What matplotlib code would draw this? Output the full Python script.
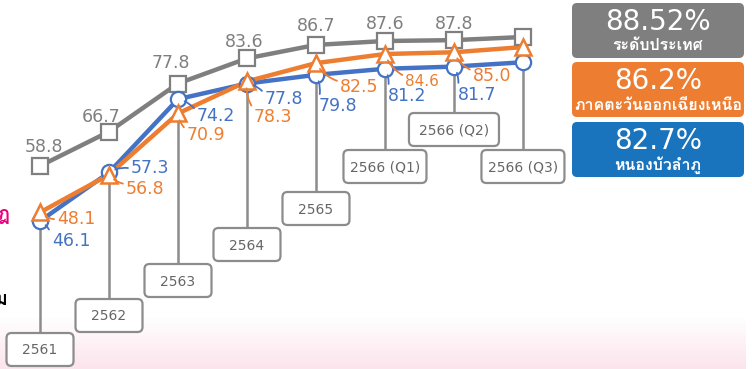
import numpy as np
import matplotlib
matplotlib.use("Agg")
import matplotlib.pyplot as plt
import matplotlib.transforms as mtransforms
from matplotlib import font_manager, ft2font
from matplotlib.patches import FancyBboxPatch
from matplotlib.colors import LinearSegmentedColormap

# data
years = ["2561", "2562", "2563", "2564", "2565", "2566 (Q1)", "2566 (Q2)", "2566 (Q3)"]
national = [58.8, 66.7, 77.8, 83.6, 86.7, 87.6, 87.8, 88.52]
northeast = [48.1, 56.8, 70.9, 78.3, 82.5, 84.6, 85.0, 86.2]
nongbua = [46.1, 57.3, 74.2, 77.8, 79.8, 81.2, 81.7, 82.7]
names = ["ระดับประเทศ", "ภาคตะวันออกเฉียงเหนือ", "หนองบัวลำภู"]

GRAY, ORANGE, BLUE = "#7f7f7f", "#ed7d31", "#4472c4"
BOX_BLUE = "#1a73bd"


def find_thai_font():
    for f in font_manager.fontManager.ttflist:
        try:
            cmap = ft2font.FT2Font(f.fname).get_charmap()
        except Exception:
            continue
        if 0x0E23 in cmap and 0x0E20 in cmap:
            return f.name
    return "DejaVu Sans"


thai = find_thai_font()
plt.rcParams["font.family"] = ["DejaVu Sans"]

W, H = 752, 369
fig = plt.figure(figsize=(W / 100, H / 100), dpi=100)

# pixel transform, origin top-left
pix = mtransforms.Affine2D().scale(1 / 100, -1 / 100).translate(0, H / 100) + fig.dpi_scale_trans

# pink fade at the bottom
bg = fig.add_axes([0, 0, 1, 1])
bg.set_xlim(0, W)
bg.set_ylim(0, H)
bg.axis("off")
cmap = LinearSegmentedColormap.from_list("fade", ["white", "#fce4ec"])
grad = np.linspace(1, 0, 60)[:, None]
bg.imshow(grad, cmap=cmap, extent=[0, 746, 0, 52], origin="lower", aspect="auto")

ax = fig.add_axes([0, 0, 1, 1])
ax.patch.set_alpha(0)
ax.set_xlim(-0.58, 10.32)
ax.set_ylim(12.0, 97.05)
ax.axis("off")

x = np.arange(len(years))

# connector lines and year boxes
box_top = [333, 299, 264, 228, 192, 150, 113, 150]
box_w = [67, 67, 67, 67, 67, 83, 90, 83]
box_h = 33
inv = ax.transData.inverted()
for i, yr in enumerate(years):
    low = min(national[i], northeast[i], nongbua[i])
    ytop = inv.transform((0, H - box_top[i]))[1]
    ax.plot([x[i], x[i]], [low, ytop], color="#8c8c8c", lw=1.8, zorder=1)
    cx = ax.transData.transform((x[i], 0))[0]
    ax.add_patch(FancyBboxPatch((cx - box_w[i] / 2, box_top[i]), box_w[i], box_h,
                                boxstyle="round,pad=0,rounding_size=5",
                                transform=pix, fc="white", ec="#8c8c8c", lw=1.6,
                                clip_on=False, zorder=2))
    ax.text(cx, box_top[i] + box_h / 2 + 1, yr, transform=pix, ha="center", va="center",
            fontsize=10, color="#666666", zorder=3)

# lines
ax.plot(x, national, color=GRAY, lw=3.2, zorder=4)
ax.plot(x, nongbua, color=BLUE, lw=3.2, zorder=5)
ax.plot(x, northeast, color=ORANGE, lw=3.2, zorder=6)
ax.plot(x, national, ls="none", marker="s", ms=11, mfc="white", mec=GRAY, mew=1.6, zorder=7)
ax.plot(x, nongbua, ls="none", marker="o", ms=11, mfc="white", mec=BLUE, mew=1.6, zorder=8)
ax.plot(x, northeast, ls="none", marker="^", ms=12, mfc="white", mec=ORANGE, mew=1.8, zorder=9)

# value labels (last point is shown in the boxes)
gray_off = [(4, -19), (-8, -15), (-7, -21), (-3, -16), (0, -19), (0, -17), (0, -16)]
blue_off = [(31, 20), (41, -4), (38, 17), (37, 15), (22, 31), (22, 27), (23, 28)]
orange_off = [(36, 7), (36, 14), (28, 22), (26, 36), (43, 24), (37, 27), (38, 24)]
blue_rel = [0.8, 0.5, 0.75, 0.75, 0.85, 0.85, 0.85]
orange_rel = [0.5, 0.75, 0.8, 0.95, 0.8, 0.8, 0.8]
orange_size = [12.5, 12.5, 12.5, 12.5, 12.5, 11, 12.5]

for i in range(len(years) - 1):
    ax.annotate(f"{national[i]:.1f}", (x[i], national[i]), xytext=(gray_off[i][0], -gray_off[i][1]),
                textcoords="offset pixels", ha="center", va="center", fontsize=12.5, color=GRAY, zorder=10)
    ax.annotate(f"{nongbua[i]:.1f}", (x[i], nongbua[i]), xytext=(blue_off[i][0], -blue_off[i][1]),
                textcoords="offset pixels", ha="center", va="center", fontsize=12.5, color=BLUE, zorder=10,
                arrowprops=dict(arrowstyle="-", color=BLUE, lw=1.3, relpos=(0, blue_rel[i]),
                                shrinkA=0, shrinkB=5, connectionstyle="arc3,rad=0.2"))
    ax.annotate(f"{northeast[i]:.1f}", (x[i], northeast[i]), xytext=(orange_off[i][0], -orange_off[i][1]),
                textcoords="offset pixels", ha="center", va="center", fontsize=orange_size[i],
                color=ORANGE, zorder=10,
                arrowprops=dict(arrowstyle="-", color=ORANGE, lw=1.3, relpos=(0, orange_rel[i]),
                                shrinkA=0, shrinkB=5, connectionstyle="arc3,rad=-0.2"))

# summary boxes on the right
tops = [3, 62, 122]
colors = [GRAY, ORANGE, BOX_BLUE]
latest = [national[-1], northeast[-1], nongbua[-1]]
fmt = ["{:.2f}%", "{:.1f}%", "{:.1f}%"]
for top, c, v, f, nm in zip(tops, colors, latest, fmt, names):
    ax.add_patch(FancyBboxPatch((572, top), 172, 55, boxstyle="round,pad=0,rounding_size=5",
                                transform=pix, fc=c, ec="none", clip_on=False, zorder=11))
    ax.text(658, top + 19, f.format(v), transform=pix, ha="center", va="center",
            fontsize=20, color="white", zorder=12)
    ax.text(658, top + 43, nm, transform=pix, ha="center", va="center", fontsize=11.5,
            fontweight="bold", color="white", family=[thai, "DejaVu Sans"], zorder=12)

# clipped text at the left edge
ax.text(9, 215, "ฎ", transform=pix, ha="right", va="center", fontsize=14, fontweight="bold",
        color="#e6007e", family=[thai, "DejaVu Sans"])
ax.text(8, 300, "ม", transform=pix, ha="right", va="center", fontsize=14, fontweight="bold",
        color="black", family=[thai, "DejaVu Sans"])

fig.savefig("out.png", dpi=100)
